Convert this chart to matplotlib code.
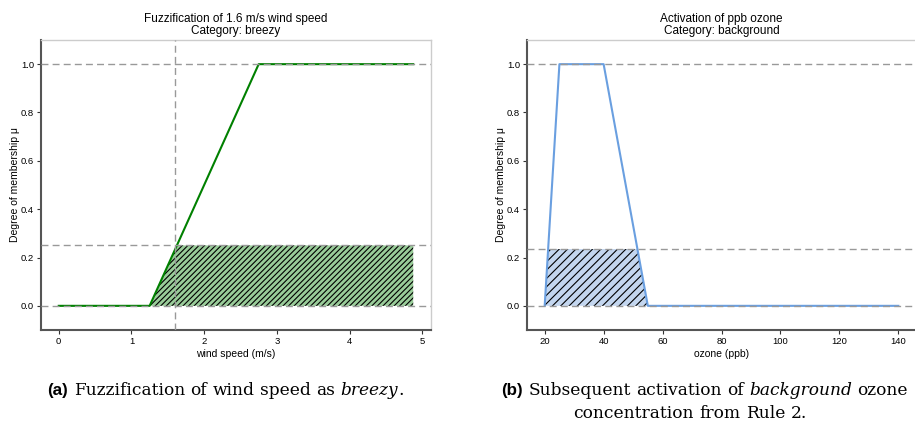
import matplotlib
matplotlib.use("Agg")
import matplotlib.pyplot as plt
import numpy as np

plt.rcParams['font.family'] = ['Liberation Sans', 'DejaVu Sans']
plt.rcParams['hatch.linewidth'] = 0.8

# ---- data ----
wind_x = [0.0, 1.25, 2.75, 4.875]
wind_mu = [0.0, 0.0, 1.0, 1.0]
wind_input = 1.6
wind_level = 0.25
wind_ticks = [0, 1, 2, 3, 4, 5]

ozone_x = [20, 25, 40, 55, 140]
ozone_mu = [0.0, 1.0, 1.0, 0.0, 0.0]
ozone_level = 0.235
ozone_fill_end = 55
ozone_ticks = [20, 40, 60, 80, 100, 120, 140]

y_ticks = [0.0, 0.2, 0.4, 0.6, 0.8, 1.0]

titles = ["Fuzzification of 1.6 m/s wind speed\nCategory: breezy",
          "Activation of ppb ozone\nCategory: background"]
xlabels = ["wind speed (m/s)", "ozone (ppb)"]
ylabel = "Degree of membership \u03bc"

W, H = 915, 426
fig = plt.figure(figsize=(W / 100, H / 100), dpi=100)

ax1 = fig.add_axes([41 / W, 1 - 330 / H, 390 / W, 290 / H])
ax2 = fig.add_axes([527 / W, 1 - 330 / H, 389 / W, 290 / H])


def style(ax):
    for s in ['left', 'bottom']:
        ax.spines[s].set_color('#555555')
        ax.spines[s].set_linewidth(1.5)
    for s in ['top', 'right']:
        ax.spines[s].set_color('#cccccc')
        ax.spines[s].set_linewidth(1.0)
    ax.tick_params(labelsize=6.8, length=3, width=0.8, color='#333333', pad=2)
    ax.set_ylim(-0.1, 1.1)
    ax.set_yticks(y_ticks)
    ax.set_yticklabels([f"{v:.1f}" for v in y_ticks])


dash = dict(color='#999999', linestyle=(0, (5, 3)), linewidth=1.0, zorder=3)

# left
xs = np.array(wind_x)
mus = np.array(wind_mu)
ax1.plot(xs, mus, color='green', linewidth=1.5, zorder=2)
fx = np.linspace(wind_x[1], wind_x[-1], 400)
fy = np.minimum(np.interp(fx, xs, mus), wind_level)
ax1.fill_between(fx, 0, fy, facecolor='#99cc99', edgecolor='black', hatch='//////',
                 linewidth=0, zorder=1)
for v in [0.0, wind_level, 1.0]:
    ax1.axhline(v, **dash)
ax1.axvline(wind_input, **dash)
ax1.set_xticks(wind_ticks)
style(ax1)
ax1.set_xlim(-0.244, 5.12)

# right
xs2 = np.array(ozone_x, dtype=float)
mus2 = np.array(ozone_mu)
ax2.plot(xs2, mus2, color='#6a9fe0', linewidth=1.5, zorder=2)
fx2 = np.linspace(ozone_x[0], ozone_fill_end, 400)
fy2 = np.minimum(np.interp(fx2, xs2, mus2), ozone_level)
ax2.fill_between(fx2, 0, fy2, facecolor='#c3d6ef', edgecolor='black', hatch='////',
                 linewidth=0, zorder=1)
for v in [0.0, ozone_level, 1.0]:
    ax2.axhline(v, **dash)
ax2.set_xticks(ozone_ticks)
style(ax2)
ax2.set_xlim(14, 146)

for ax, t, xl in zip([ax1, ax2], titles, xlabels):
    ax.set_title(t, fontsize=8.5, pad=4, linespacing=1.1)
    ax.set_xlabel(xl, fontsize=7.5, labelpad=2)
    ax.set_ylabel(ylabel, fontsize=7.5, labelpad=0.5)

# captions with mixed fonts
renderer = fig.canvas.get_renderer()
SERIF = 'DejaVu Serif'
SANS = 'Liberation Sans'


def width(txt, size, fam, weight='normal', style_='normal'):
    t = fig.text(0, 0, txt, fontsize=size, family=fam, weight=weight, style=style_)
    w = t.get_window_extent(renderer).width
    t.remove()
    return w


def space_w(size):
    return width("x x", size, SERIF) - width("xx", size, SERIF)


def layout(parts, size):
    offs = []
    x = 0.0
    sp = space_w(size)
    for i, (txt, fam, weight, st) in enumerate(parts):
        if i > 0 and not txt.startswith('.'):
            x += sp
        offs.append(x)
        x += width(txt, size, fam, weight, st)
    return offs, x


def words(s, fam=SERIF, weight='normal', st='normal'):
    return [(w, fam, weight, st) for w in s.split()]


cap_a = ([("(a)", SANS, 'bold', 'normal')] + words("Fuzzification of wind speed as")
         + [("breezy", SERIF, 'normal', 'italic'), (".", SERIF, 'normal', 'normal')])
cap_b1 = ([("(b)", SANS, 'bold', 'normal')] + words("Subsequent activation of")
          + [("background", SERIF, 'normal', 'italic')] + words("ozone"))
cap_b2 = words("concentration from Rule 2.")

# (parts, centre x in px, baseline y in px, reference width in px)
lines = [(cap_a, 225.5, 395, 369), (cap_b1, 704.5, 395, 417), (cap_b2, 690, 418, 214)]

base = 12.0
scales = [ref_w / layout(p, base)[1] for p, _, _, ref_w in lines]
CAP = base * float(np.mean(scales))

for parts, cx, yb, _ in lines:
    offs, tot = layout(parts, CAP)
    x0 = cx - tot / 2
    for (txt, fam, weight, st), o in zip(parts, offs):
        fig.text((x0 + o) / W, 1 - yb / H, txt, fontsize=CAP, family=fam,
                 weight=weight, style=st, va='baseline', ha='left')

fig.savefig("out.png", dpi=100)
